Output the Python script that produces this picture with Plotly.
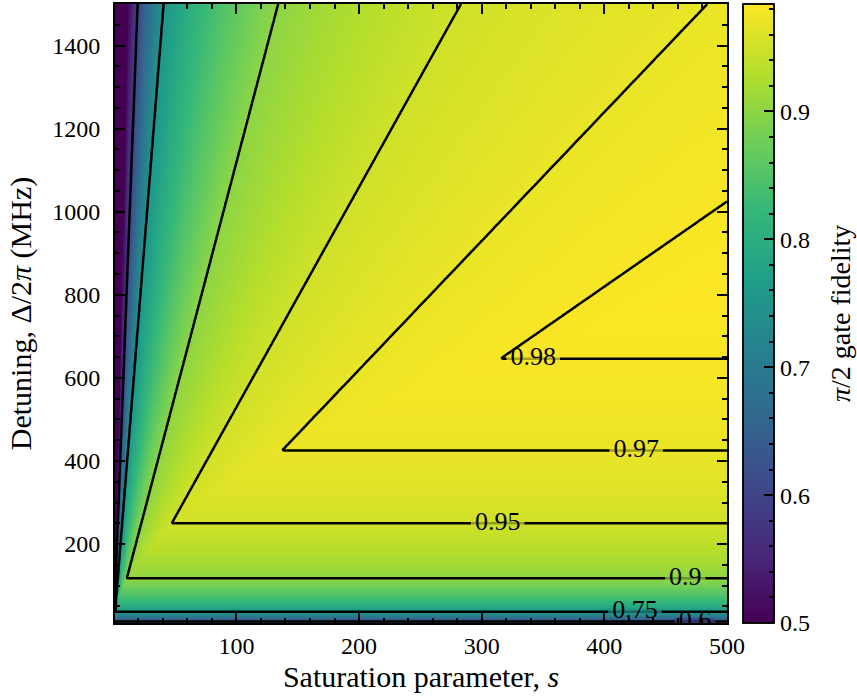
import numpy as np
import plotly.graph_objects as go
from plotly.colors import sample_colorscale

# ---- values ----
# contour levels and where their labels sit (saturation parameter s)
levels = [0.6, 0.75, 0.9, 0.95, 0.97, 0.98]
level_text = ["0.6", "0.75", "0.9", "0.95", "0.97", "0.98"]
label_s = [474, 425, 466, 313, 426, 342]
# detuning (MHz) of each level's horizontal contour segment
level_det = [14.0, 36.7, 117.6, 249.6, 424.8, 645.6]

# detuning-limited fidelity (horizontal contour segments + extrapolated ends)
det_knots = [8.0, 14.0, 36.7, 117.6, 249.6, 424.8, 645.6, 1000.0, 1500.0]
det_fid = [0.55, 0.60, 0.75, 0.90, 0.95, 0.97, 0.98, 0.986, 0.989]
# ratio-limited fidelity vs Delta/s (diagonal contour segments)
ratio_knots = [0.3, 1.0, 2.05, 3.1, 5.3, 11.2, 37.0, 77.0, 150.0, 1500.0]
ratio_fid = [0.995, 0.99, 0.98, 0.97, 0.95, 0.90, 0.75, 0.60, 0.48, 0.10]

x_ticks = [100, 200, 300, 400, 500]
y_ticks = [200, 400, 600, 800, 1000, 1200, 1400]
cb_major = [0.5, 0.6, 0.7, 0.8, 0.9]
zmin, zmax = 0.5, 0.984

# ---- field ----
s = np.linspace(1, 500, 500)
d = np.linspace(8, 1500, 460)
S, D = np.meshgrid(s, d)
fa = np.interp(np.log(D), np.log(det_knots), det_fid)
fb = np.interp(np.log(D / S), np.log(ratio_knots), ratio_fid)
F = np.minimum(fa, fb)

FONT = "Liberation Serif, Times New Roman, serif"
TICK = 24
TITLE = 30
LABEL = 26

fig = go.Figure()
fig.add_trace(go.Heatmap(
    x=s, y=d, z=F, colorscale="Viridis", zmin=zmin, zmax=zmax, zsmooth="best",
    hoverinfo="skip",
    colorbar=dict(
        x=1.0261, xanchor="left", xpad=0, ypad=0, y=0.5, yanchor="middle",
        len=1, lenmode="fraction", thickness=31,
        outlinewidth=1.5, outlinecolor="black",
        ticks="inside", ticklen=5, tickwidth=1.5, tickcolor="black",
        tick0=0.5, dtick=0.02, ticklabelstep=5,
        tickfont=dict(family=FONT, size=TICK, color="black"),
    ),
))

for lv in levels:
    fig.add_trace(go.Contour(
        x=s, y=d, z=F, showscale=False, hoverinfo="skip",
        contours=dict(start=lv, end=lv, size=1, coloring="none"),
        line=dict(color="black", width=2.5),
    ))

# gaps in the contour lines behind the labels, coloured like the level
gap_cols = sample_colorscale("Viridis", [(lv - zmin) / (zmax - zmin) for lv in levels])
# 'line-ew' marker length is 1.4 x size
gap_w = [(LABEL * (0.5 * sum(c.isdigit() for c in t) + 0.25) + 8) / 1.4
         for t in level_text]
fig.add_trace(go.Scatter(
    x=label_s, y=level_det, mode="markers", hoverinfo="skip", cliponaxis=True,
    marker=dict(symbol="line-ew", size=gap_w,
                line=dict(width=7, color=gap_cols)),
))
fig.add_trace(go.Scatter(
    x=label_s, y=level_det, mode="text", text=level_text, hoverinfo="skip",
    textposition="middle center", cliponaxis=True,
    textfont=dict(family=FONT, size=LABEL, color="black"),
))

# transparent trace whose colorbar adds the long major ticks
fig.add_trace(go.Heatmap(
    x=[250, 260], y=[700, 710], z=[[zmin, zmax], [zmin, zmax]],
    colorscale=[[0, "rgba(0,0,0,0)"], [1, "rgba(0,0,0,0)"]],
    zmin=zmin, zmax=zmax, hoverinfo="skip",
    colorbar=dict(
        x=1.0261, xanchor="left", xpad=0, ypad=0, y=0.5, yanchor="middle",
        len=1, lenmode="fraction", thickness=31,
        outlinewidth=1.5, outlinecolor="black",
        ticks="inside", ticklen=10, tickwidth=1.5, tickcolor="black",
        tickvals=cb_major, showticklabels=False,
    ),
))

fig.add_annotation(
    xref="paper", yref="paper", x=1.214, y=0.5, textangle=-90,
    text="<i>π</i>/2 gate fidelity", showarrow=False,
    font=dict(family=FONT, size=28, color="black"),
)

axis_common = dict(
    showline=True, linecolor="black", linewidth=2, mirror="allticks",
    ticks="inside", ticklen=10, tickwidth=1.5, tickcolor="black",
    showgrid=False, zeroline=False,
    tickfont=dict(family=FONT, size=TICK, color="black"),
)
fig.update_xaxes(
    range=[1, 500], tickvals=x_ticks,
    minor=dict(dtick=20, tick0=0, ticks="inside", ticklen=5, tickwidth=1.5,
               tickcolor="black", showgrid=False),
    title=dict(text="Saturation parameter, <i>s</i>",
               font=dict(family=FONT, size=TITLE, color="black"), standoff=8),
    **axis_common,
)
fig.update_yaxes(
    range=[10, 1500], tickvals=y_ticks, ticklabelstandoff=8,
    minor=dict(dtick=50, tick0=0, ticks="inside", ticklen=5, tickwidth=1.5,
               tickcolor="black", showgrid=False),
    title=dict(text="Detuning, Δ/2<i>π</i> (MHz)",
               font=dict(family=FONT, size=TITLE, color="black"), standoff=12),
    **axis_common,
)
fig.update_layout(
    width=857, height=700,
    margin=dict(l=115, r=130, t=2, b=77),
    paper_bgcolor="white", plot_bgcolor="white",
    font=dict(family=FONT, size=TICK, color="black"),
    showlegend=False,
)
fig.write_html("out.html")
